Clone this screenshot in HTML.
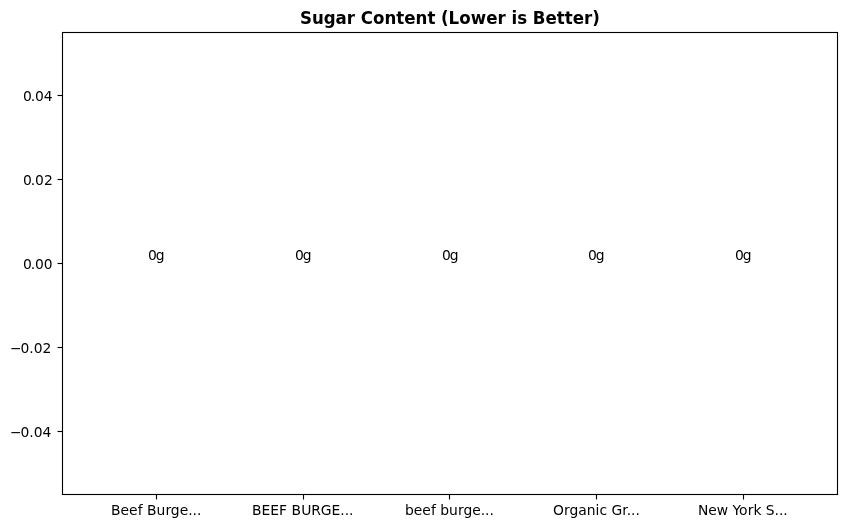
<!DOCTYPE html>
<html lang="en">
<head>
<meta charset="utf-8">
<title>Sugar Content (Lower is Better)</title>
<style>
html,body{margin:0;padding:0;background:#fff;}
body{width:846px;height:528px;overflow:hidden;}
svg{display:block;}
text{font-family:"DejaVu Sans","Liberation Sans",sans-serif;font-size:13.8889px;fill:#000;text-anchor:start;}
.title{font-size:16.6667px;font-weight:700;}
.ln{stroke:#000;stroke-width:1.1111;fill:none;}
</style>
</head>
<body>
<svg width="846" height="528" viewBox="0 0 846 528">
<rect x="0" y="0" width="846" height="528" fill="#fff"/>
<!-- axes frame -->
<rect class="ln" x="62.5" y="32.5" width="775" height="462" stroke-linejoin="miter"/>
<!-- tick marks -->
<g class="ln">
<line x1="156.5" y1="494.5" x2="156.5" y2="499.5"/>
<line x1="303.5" y1="494.5" x2="303.5" y2="499.5"/>
<line x1="449.5" y1="494.5" x2="449.5" y2="499.5"/>
<line x1="596.5" y1="494.5" x2="596.5" y2="499.5"/>
<line x1="743.5" y1="494.5" x2="743.5" y2="499.5"/>
<line x1="57.5" y1="95.5" x2="62.5" y2="95.5"/>
<line x1="57.5" y1="179.5" x2="62.5" y2="179.5"/>
<line x1="57.5" y1="263.5" x2="62.5" y2="263.5"/>
<line x1="57.5" y1="347.5" x2="62.5" y2="347.5"/>
<line x1="57.5" y1="431.5" x2="62.5" y2="431.5"/>
</g>
<!-- title -->
<text id="title" class="title" transform="translate(0,24) scale(1,1.085)" x="299.935 311.915 323.651 335.447 346.678 354.9 360.695 372.915 384.482 396.217 404.169 415.461 427.447 435.289 441.084 448.567 459.309 470.736 486.256 497.422 505.629 511.424 517.145 527.059 532.854 545.539 556.83 564.797 572.764 584.056 592.263" y="0">Sugar Content (Lower is Better)</text>
<!-- x tick labels -->
<text id="xl1" x="111.1 120.616 129.022 137.678 142.569 146.975 156.491 165.413 170.756 179.678 188.225 192.506 196.913" y="515">Beef Burge...</text>
<text id="xl2" x="252.122 261.513 270.278 279.044 287.153 291.56 301.2 311.232 320.872 331.622 340.263 344.794 349.091" y="515">BEEF BURGE...</text>
<text id="xl3" x="405.004 413.801 422.347 430.879 435.754 440.176 448.972 457.894 463.488 472.16 480.707 484.988 489.394" y="515">beef burge...</text>
<text id="xl4" x="553.042 563.948 569.417 578.229 586.729 595.526 599.495 607.01 611.417 622.167 626.713 631.01 635.417" y="515">Organic Gr...</text>
<text id="xl5" x="697.979 708.354 716.76 728.229 732.526 739.026 747.76 753.463 761.51 765.791 774.604 779.01 783.291" y="515">New York S...</text>
<!-- y tick labels -->
<text id="yl1" x="9.907 20.532 29.36 33.766 42.594" y="437">−0.04</text>
<text id="yl2" x="9.907 20.532 29.36 33.766 42.594" y="353">−0.02</text>
<text id="yl3" x="22.907 30.719 34.891 43.719" y="269">0.00</text>
<text id="yl4" x="22.907 30.719 35.016 43.969" y="185">0.02</text>
<text id="yl5" x="22.907 30.719 35.016 43.844" y="101">0.04</text>
<!-- bar value labels -->
<text id="g1" x="147.905 155.717" y="260">0g</text>
<text id="g2" x="294.935 302.747" y="260">0g</text>
<text id="g3" x="441.965 449.777" y="260">0g</text>
<text id="g4" x="587.995 595.807" y="260">0g</text>
<text id="g5" x="734.901 742.713" y="260">0g</text>
</svg>
</body>
</html>
